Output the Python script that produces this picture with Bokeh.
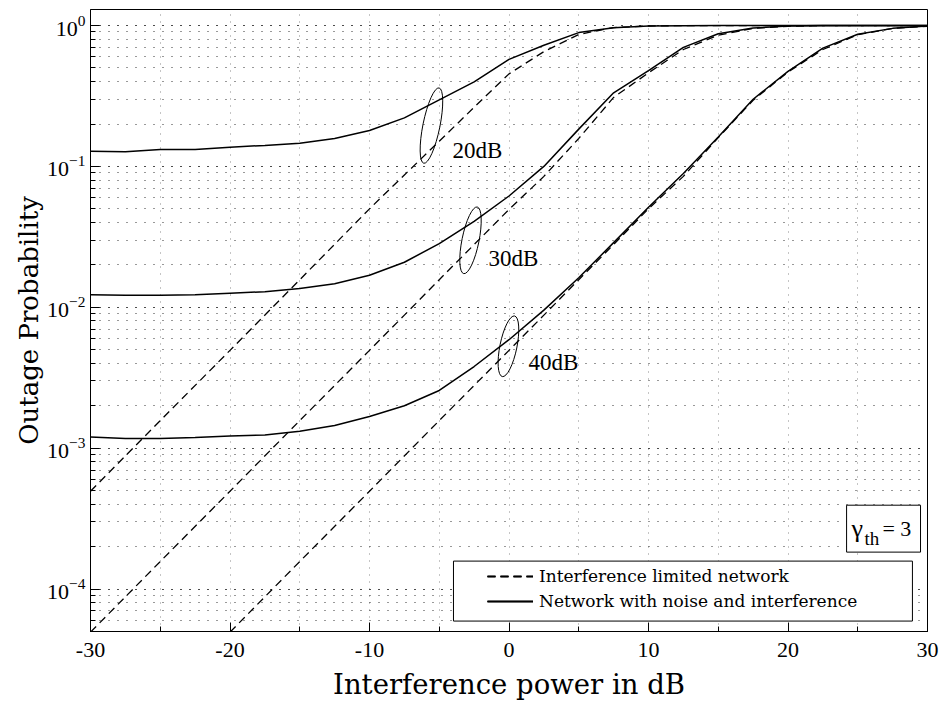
from bokeh.plotting import figure
from bokeh.embed import file_html
from bokeh.resources import INLINE
from bokeh.core.properties import value
from bokeh.models import (Range1d, LogTicker, SingleIntervalTicker, BoxAnnotation,
                          Legend, LegendItem, Label)

# ---------------- data ----------------
x_solid = [-30, -27.5, -25, -22.5, -20, -17.5, -15, -12.5, -10, -7.5, -5, -2.5,
           0, 2.5, 5, 7.5, 10, 12.5, 15, 17.5, 20, 22.5, 25, 27.5, 30]
solid20 = [0.128, 0.127, 0.132, 0.132, 0.137, 0.141, 0.146, 0.158, 0.180, 0.221,
           0.297, 0.398, 0.575, 0.724, 0.891, 0.964, 0.991, 0.998, 1.0, 1.0, 1.0,
           1.0, 1.0, 1.0, 1.0]
solid30 = [0.0123, 0.0122, 0.0122, 0.0123, 0.0126, 0.0129, 0.0136, 0.0147, 0.0169,
           0.0209, 0.0283, 0.0407, 0.0617, 0.100, 0.184, 0.333, 0.479, 0.700, 0.875,
           0.959, 0.991, 0.999, 1.0, 1.0, 1.0]
solid40 = [0.00120, 0.00117, 0.00117, 0.00119, 0.00122, 0.00124, 0.00132, 0.00145,
           0.00168, 0.00200, 0.00257, 0.00380, 0.00589, 0.00955, 0.0162, 0.0288,
           0.0513, 0.0891, 0.162, 0.300, 0.473, 0.692, 0.867, 0.955, 0.991]

x_dash = [-30, -25, -20, -15, -10, -7.5, -5, -2.5, 0, 2.5, 5, 7.5, 10, 12.5, 15,
          17.5, 20, 22.5, 25, 27.5, 30]
dash20 = [4.95e-4, 1.57e-3, 4.95e-3, 0.0157, 0.0500, 0.087, 0.151, 0.263, 0.454,
          0.653, 0.865, 0.968, 0.993, 0.999, 1.0, 1.0, 1.0, 1.0, 1.0, 1.0, 1.0]
dash30 = [4.95e-5, 1.57e-4, 4.95e-4, 1.57e-3, 4.95e-3, 8.8e-3, 0.0157, 0.0279,
          0.0495, 0.085, 0.158, 0.309, 0.462, 0.676, 0.855, 0.955, 0.989, 0.998,
          1.0, 1.0, 1.0]
x_dash40 = [-20, -15, -10, -5, 0, 2.5, 5, 7.5, 10, 12.5, 15, 17.5, 20, 22.5, 25,
            27.5, 30]
dash40 = [4.95e-5, 1.57e-4, 4.95e-4, 1.57e-3, 4.95e-3, 8.8e-3, 0.0157, 0.0279,
          0.0501, 0.085, 0.160, 0.295, 0.468, 0.676, 0.861, 0.955, 0.989]

x_tick_labels = {-30: "-30", -20: "-20", -10: "-10", 0: "0", 10: "10", 20: "20", 30: "30"}

# annotation ellipses and labels
ann_x = [-5.56, -2.76, -0.04]
ann_y = [0.195, 0.0299, 0.00529]
ann_h = [77, 68, 62]
lab_x = [-4.05, -1.47, 1.4]
lab_y = [0.130, 0.0223, 0.00407]
lab_text = ["20dB", "30dB", "40dB"]

legend_labels = ["Interference limited network", "Network with noise and interference"]

# ---------------- figure ----------------
p = figure(width=940, height=702, y_axis_type="log",
           x_range=Range1d(-30, 30), y_range=Range1d(5e-5, 1.3),
           output_backend="svg", toolbar_location=None,
           min_border_left=90, min_border_right=13, min_border_top=9,
           min_border_bottom=70)

p.background_fill_color = "white"
p.border_fill_color = "white"
p.outline_line_color = "black"
p.outline_line_width = 1
p.outline_line_alpha = 1

p.xaxis.ticker = SingleIntervalTicker(interval=10, num_minor_ticks=2)
p.yaxis.ticker = LogTicker(num_minor_ticks=10)
p.xgrid.ticker = SingleIntervalTicker(interval=5)
p.xaxis.major_label_overrides = x_tick_labels

p.xgrid.grid_line_color = "#8a8a8a"
p.xgrid.grid_line_dash = "1 6"
p.xgrid.grid_line_width = 1
p.ygrid.grid_line_color = "#333333"
p.ygrid.grid_line_dash = "1 8"
p.ygrid.minor_grid_line_color = "#333333"
p.ygrid.minor_grid_line_dash = "1 8"

for ax in (p.xaxis[0], p.yaxis[0]):
    ax.axis_line_color = "black"
    ax.axis_line_width = 1
    ax.major_tick_in = 9
    ax.major_tick_out = 0
    ax.minor_tick_in = 5
    ax.minor_tick_out = 0
    ax.major_tick_line_color = "black"
    ax.minor_tick_line_color = "black"
    ax.major_label_text_font = "Liberation Serif"
    ax.major_label_text_color = "black"
    ax.axis_label_text_font = "DejaVu Serif"
    ax.axis_label_text_font_style = "normal"
    ax.axis_label_text_color = "black"

p.xaxis.major_label_text_font_size = "22px"
p.yaxis.major_label_text_font_size = "22px"
p.xaxis.axis_label_text_font_size = "27.5px"
p.yaxis.axis_label_text_font_size = "26px"
p.xaxis.axis_label = "Interference power in dB"
p.yaxis.axis_label = "Outage Probability"
p.xaxis.major_label_standoff = 11
p.xaxis.axis_label_standoff = 8
p.yaxis.major_label_standoff = 5
p.yaxis.axis_label_standoff = 0

# ---------------- curves ----------------
dash_style = dict(line_color="black", line_width=1.3, line_dash="8 5")
solid_style = dict(line_color="black", line_width=1.5)

d20 = p.line(x_dash, dash20, **dash_style)
d30 = p.line(x_dash, dash30, **dash_style)
d40 = p.line(x_dash40, dash40, **dash_style)
s20 = p.line(x_solid, solid20, **solid_style)
s30 = p.line(x_solid, solid30, **solid_style)
s40 = p.line(x_solid, solid40, **solid_style)

# ---------------- annotations ----------------
p.ellipse(x=ann_x, y=ann_y, width=17, height=ann_h, angle=-0.2,
          width_units="screen", height_units="screen",
          fill_color=None, line_color="black", line_width=1)
p.text(x=lab_x, y=lab_y, text=lab_text, text_font=value("Liberation Serif"),
       text_font_size="23px", text_baseline="middle", text_align="left",
       text_color="black")

# legend frame
p.add_layout(BoxAnnotation(left=-3.98, right=28.92, bottom=5.93e-5, top=1.58e-4,
                           fill_color="white", fill_alpha=1.0,
                           line_color="black", line_width=1, line_alpha=1))
legend = Legend(items=[LegendItem(label=legend_labels[0], renderers=[d20, d30, d40]),
                       LegendItem(label=legend_labels[1], renderers=[s20, s30, s40])],
                location=(397, 20), padding=0, margin=0, spacing=5,
                glyph_width=46, glyph_height=20, label_height=20, label_standoff=6,
                border_line_color=None, background_fill_alpha=0.0,
                label_text_font="DejaVu Serif", label_text_font_size="17px",
                label_text_color="black")
p.add_layout(legend)

# gamma_th box
p.add_layout(BoxAnnotation(left=24.2, right=29.5, bottom=1.83e-4, top=3.94e-4,
                           fill_color="white", fill_alpha=1.0,
                           line_color="black", line_width=1, line_alpha=1))
p.add_layout(Label(x=24.55, y=2.71e-4, text="γ", text_font="Liberation Serif",
                   text_font_size="26px", text_baseline="middle", text_color="black"))
p.add_layout(Label(x=25.48, y=2.30e-4, text="th", text_font="Liberation Serif",
                   text_font_size="19px", text_baseline="middle", text_color="black"))
p.add_layout(Label(x=26.77, y=2.71e-4, text="= 3", text_font="Liberation Serif",
                   text_font_size="22px", text_baseline="middle", text_color="black"))

open("out.html", "w").write(file_html(p, INLINE))
